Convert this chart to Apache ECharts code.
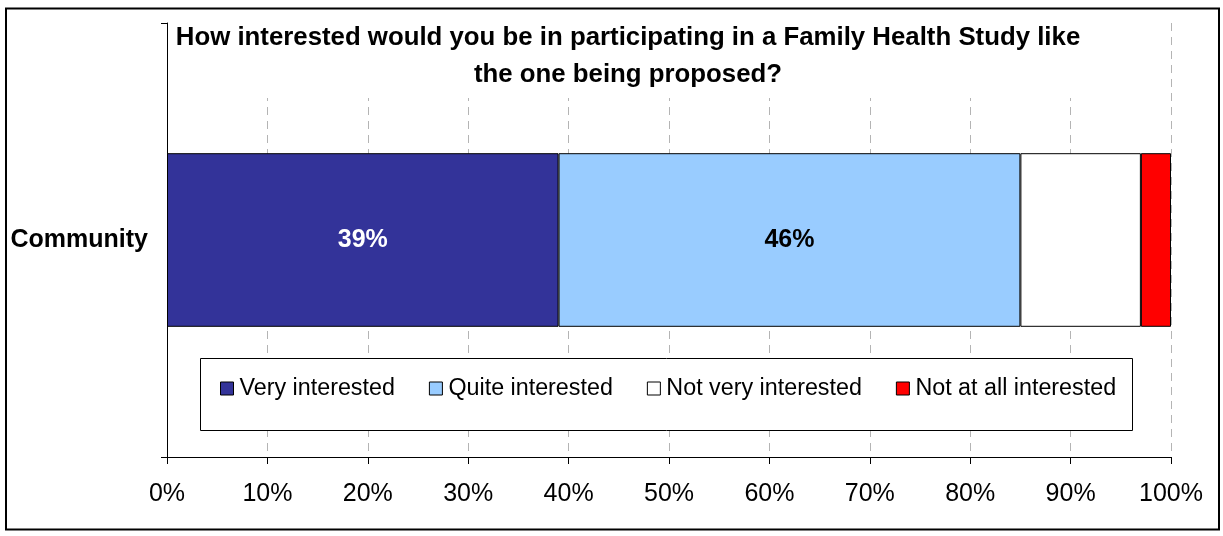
<!DOCTYPE html>
<html>
<head>
<meta charset="utf-8">
<title>Family Health Study interest</title>
<script src="https://cdn.jsdelivr.net/npm/echarts@6/dist/echarts.min.js"></script>
<style>
  html, body { margin: 0; padding: 0; background: #fff; }
  #chart { width: 1223px; height: 536px; }
</style>
</head>
<body>
<div id="chart"></div>
<script>
// Survey groups (one bar each)
const categories = ['Community'];

// Response options, in stacking order
const responseNames = ['Very interested', 'Quite interested', 'Not very interested', 'Not at all interested'];

// Percentage of respondents per response option
const veryInterested = [39];
const quiteInterested = [46];
const notVeryInterested = [12];
const notAtAllInterested = [3];

// Percent tick values along the horizontal axis
const tickValues = [0, 10, 20, 30, 40, 50, 60, 70, 80, 90, 100];

const seriesValues = [veryInterested, quiteInterested, notVeryInterested, notAtAllInterested];
const seriesColors = ['#333399', '#99CCFF', '#FFFFFF', '#FF0000'];
// Only the two largest segments carry a value label
const labelColors = ['#FFFFFF', '#000000', null, null];

const FONT = '"Liberation Sans", Arial, sans-serif';

const chart = echarts.init(document.getElementById('chart'), null, { renderer: 'canvas' });

const series = responseNames.map((name, i) => ({
  name: name,
  type: 'bar',
  stack: 'total',
  barWidth: '40%',
  data: seriesValues[i],
  itemStyle: { color: seriesColors[i], borderColor: '#000', borderWidth: 1 },
  label: labelColors[i] ? {
    show: true,
    position: 'inside',
    formatter: '{c}%',
    color: labelColors[i],
    fontFamily: FONT,
    fontWeight: 'bold',
    fontSize: 25
  } : { show: false },
  emphasis: { disabled: true }
}));

chart.setOption({
  animation: false,
  backgroundColor: '#fff',
  title: {
    text: 'How interested would you be in participating in a Family Health Study like\nthe one being proposed?',
    left: 628,
    top: 19,
    padding: 0,
    textAlign: 'center',
    textStyle: {
      fontFamily: FONT,
      fontWeight: 'bold',
      fontSize: 25.8,
      lineHeight: 37,
      color: '#000'
    }
  },
  grid: { left: 167, right: 52, top: 23, bottom: 79, containLabel: false },
  xAxis: {
    type: 'value',
    min: tickValues[0],
    max: tickValues[tickValues.length - 1],
    interval: tickValues[1] - tickValues[0],
    axisLine: { show: true, lineStyle: { color: '#000', width: 1 } },
    axisTick: { show: true, length: 7, lineStyle: { color: '#000' } },
    axisLabel: {
      formatter: '{value}%',
      color: '#000',
      fontFamily: FONT,
      fontSize: 25,
      margin: 25
    },
    splitLine: { show: true, lineStyle: { color: '#b4b4b4', type: [8, 6], width: 1 } }
  },
  yAxis: {
    type: 'category',
    data: categories,
    axisLine: { show: true, lineStyle: { color: '#000', width: 1 } },
    axisTick: { show: true, length: 6, lineStyle: { color: '#000' } },
    axisLabel: {
      color: '#000',
      fontFamily: FONT,
      fontWeight: 'bold',
      fontSize: 25,
      margin: 19
    },
    splitLine: { show: false }
  },
  legend: {
    data: responseNames,
    left: 220,
    top: 377,
    padding: 0,
    itemGap: 34,
    itemWidth: 13,
    itemHeight: 13,
    icon: 'rect',
    itemStyle: { borderColor: '#000', borderWidth: 1 },
    textStyle: { color: '#000', fontFamily: FONT, fontSize: 23.3, padding: [0, 0, 0, 1] },
    selectedMode: false
  },
  graphic: [
    // white panel behind the title, hiding gridlines there
    { type: 'rect', z: 3, silent: true,
      shape: { x: 175, y: 22, width: 907, height: 76 },
      style: { fill: '#fff', stroke: null } },
    // legend frame
    { type: 'rect', z: 3, silent: true,
      shape: { x: 200.5, y: 358.5, width: 932, height: 72 },
      style: { fill: '#fff', stroke: '#000', lineWidth: 1 } },
    // outer chart border
    { type: 'rect', z: 10, silent: true,
      shape: { x: 6, y: 8.5, width: 1213, height: 521 },
      style: { fill: null, stroke: '#000', lineWidth: 2 } }
  ],
  series: series
});
</script>
</body>
</html>
